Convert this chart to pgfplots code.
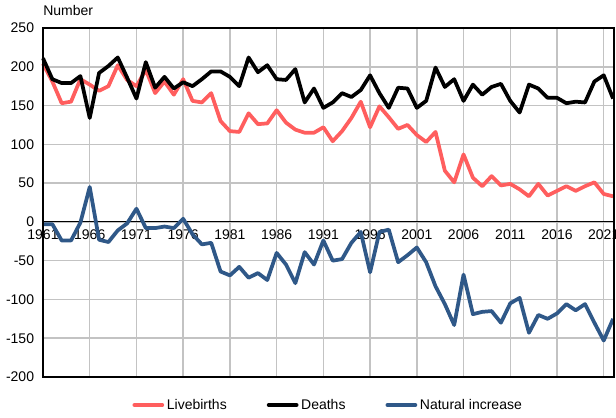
\documentclass[border=0pt]{standalone}
\usepackage{pgfplots}
\pgfplotsset{compat=1.18}
\usepackage{pgfplotstable}
\usepackage{fontspec}
\setmainfont{Liberation Sans}
\definecolor{births}{RGB}{255,94,94}
\definecolor{natinc}{RGB}{47,88,136}
\definecolor{gridc}{RGB}{195,195,195}
\pgfplotstableread{
year births deaths nat
1961 204 211 -3
1962 181 184 -3
1963 153 179 -24
1964 155 179 -24
1965 184 188 -1
1966 177 134 45
1967 169 192 -23
1968 175 201 -26
1969 202 212 -11
1970 183 186 -2
1971 175 159 17
1972 196 206 -8
1973 166 173 -8
1974 181 187 -6
1975 164 172 -8
1976 184 180 4
1977 156 175 -16
1978 154 184 -29
1979 166 194 -27
1980 130 194 -64
1981 117 187 -69
1982 116 175 -58
1983 140 212 -72
1984 126 193 -66
1985 127 202 -75
1986 144 184 -40
1987 128 183 -55
1988 119 197 -79
1989 115 154 -39
1990 115 172 -55
1991 122 147 -24
1992 104 154 -50
1993 117 166 -48
1994 134 161 -27
1995 155 170 -13
1996 122 189 -65
1997 149 166 -13
1998 135 147 -10
1999 120 173 -52
2000 125 172 -43
2001 112 147 -33
2002 103 156 -52
2003 116 199 -83
2004 66 174 -106
2005 51 184 -133
2006 87 156 -68
2007 57 177 -119
2008 46 164 -116
2009 59 174 -115
2010 47 178 -130
2011 49 156 -105
2012 42 141 -98
2013 33 177 -143
2014 49 172 -120
2015 34 160 -125
2016 40 160 -118
2017 46 153 -106
2018 40 155 -114
2019 46 154 -106
2020 51 181 -130
2021 36 189 -153
2022 33 159 -125
}\datatable
\begin{document}
\fontsize{10.5}{12.6}\selectfont
\begin{tikzpicture}
\useasboundingbox (-32.25pt,-30pt) rectangle (429.75pt,282.75pt);
\begin{axis}[
  at={(0pt,0pt)}, anchor=south west,
  scale only axis,
  width=428.25pt, height=261.75pt,
  xmin=1961, xmax=2022.1,
  ymin=-200, ymax=250,
  axis x line*=middle,
  axis y line*=left,
  hide obscured x ticks=false,
  hide obscured y ticks=false,
  xtick={1961,1966,1971,1976,1981,1986,1991,1996,2001,2006,2011,2016,2021},
  xticklabels={1961,1966,1971,1976,1981,1986,1991,1996,2001,2006,2011,2016,2021},
  ytick={-200,-150,-100,-50,0,50,100,150,200,250},
  yticklabels={-200,-150,-100,-50,0,50,100,150,200,250},
  major tick length=0pt,
  tick label style={font=\fontsize{10.5}{12.6}\selectfont},
  xticklabel style={yshift=-2pt},
  yticklabel style={xshift=-3pt},
  grid=major,
  major grid style={draw=gridc, line width=1.1pt},
  axis line style={black, line width=0.8pt},
  clip=false,
  legend style={at={(0.5,0)}, anchor=center, yshift=-21pt, draw=none, fill=none,
    legend columns=3, font=\fontsize{10.5}{12.6}\selectfont,
    /tikz/every even column/.append style={column sep=28pt},
    nodes={inner sep=2pt}},
  legend image code/.code={\draw[#1, line cap=round] (0pt,0pt) -- (21pt,0pt);},
]
\addplot[births, line width=2.8pt, line join=round] table[x=year,y=births] {\datatable};
\addlegendentry{Livebirths}
\addplot[black, line width=2.8pt, line join=round] table[x=year,y=deaths] {\datatable};
\addlegendentry{Deaths}
\addplot[natinc, line width=2.8pt, line join=round] table[x=year,y=nat] {\datatable};
\addlegendentry{Natural increase}
\draw[black, line width=1pt] (rel axis cs:0,0) rectangle (rel axis cs:1,1);
\node[anchor=base west, inner sep=0pt] at ([yshift=9pt]rel axis cs:0,1) {Number};
\end{axis}
\end{tikzpicture}
\end{document}
